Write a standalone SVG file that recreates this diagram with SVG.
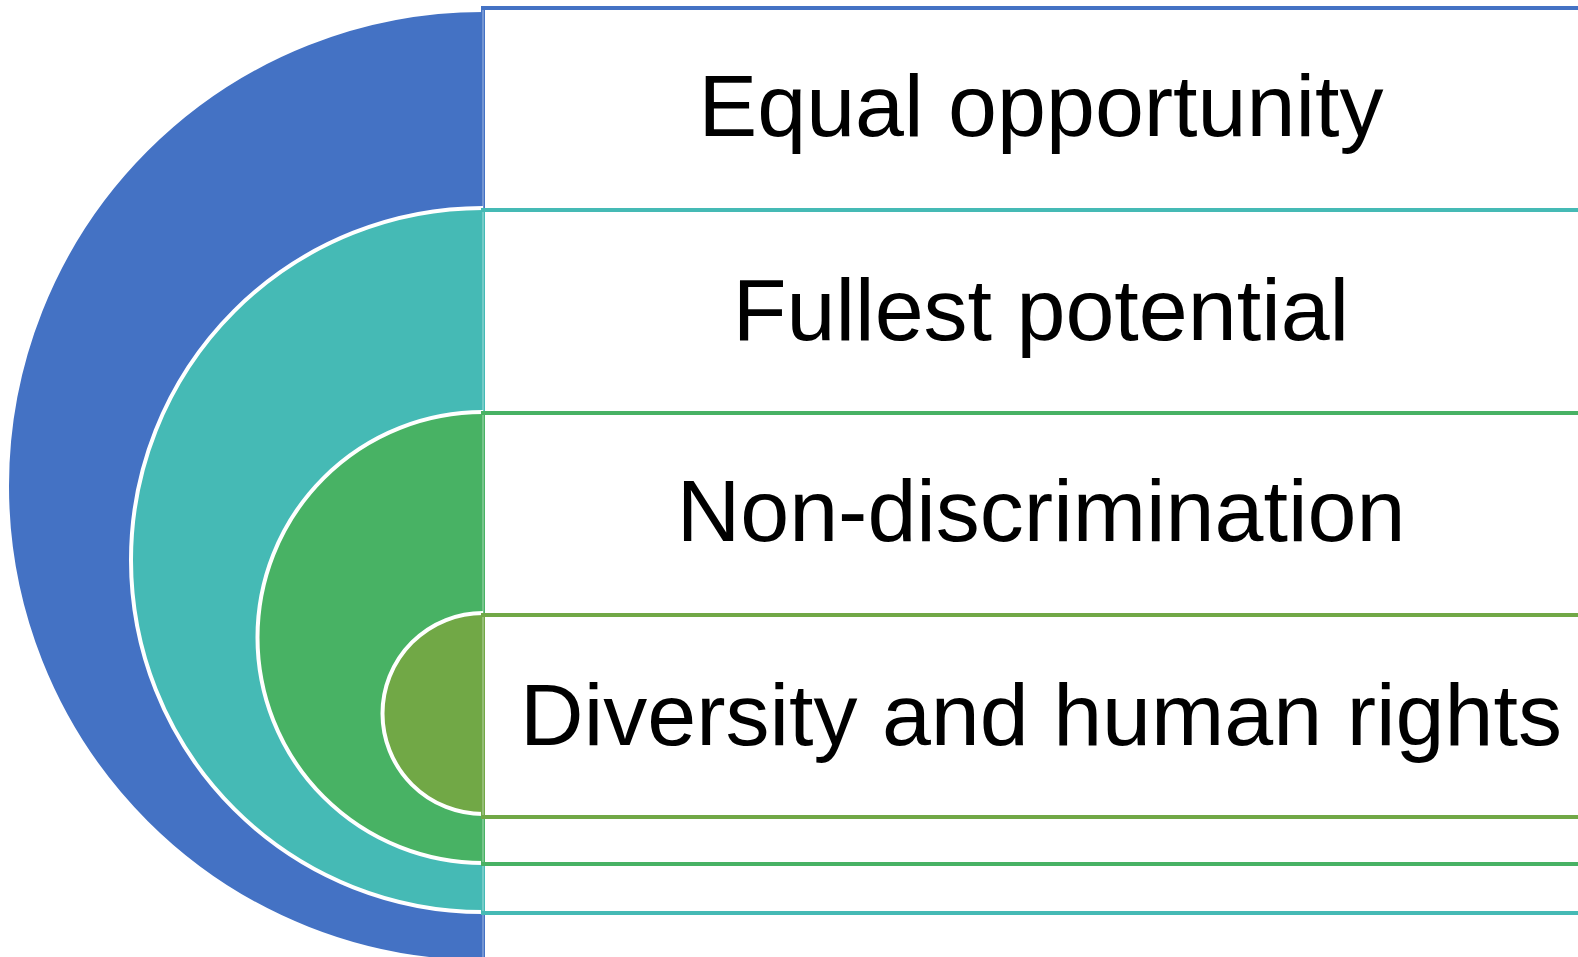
<svg xmlns="http://www.w3.org/2000/svg" width="1578" height="957" viewBox="0 0 1578 957">
<style>
.arc{stroke:#fff;stroke-width:4}
.box{fill:#fff;stroke-width:4}
.edge{stroke:#fff;stroke-opacity:0.35;stroke-width:1.5}
.lbl{font-family:"Liberation Sans",Arial,sans-serif;font-size:88px;fill:#000;text-anchor:middle}
</style>
<rect width="1578" height="957" fill="#fff"/>
<g id="node-equal">
<path class="arc" fill="#4472C4" d="M483,10 A476,476 0 0 0 483,962"/>
<rect class="box" stroke="#4472C4" x="483" y="8" width="1200" height="1000"/>
<line class="edge" x1="483" y1="10" x2="483" y2="957"/>
<text class="lbl" x="1041" y="136">Equal opportunity</text>
</g>
<g id="node-fullest">
<path class="arc" fill="#45BAB5" d="M483,208 A352,352 0 0 0 483,912"/>
<rect class="box" stroke="#45BAB5" x="483" y="210" width="1200" height="703"/>
<line class="edge" x1="483" y1="212" x2="483" y2="911"/>
<text class="lbl" x="1041" y="340">Fullest potential</text>
</g>
<g id="node-nondisc">
<path class="arc" fill="#48B264" d="M483,412 A225.5,225.5 0 0 0 483,863"/>
<rect class="box" stroke="#48B264" x="483" y="413" width="1200" height="451"/>
<line class="edge" x1="483" y1="415" x2="483" y2="862"/>
<text class="lbl" x="1041" y="541">Non-discrimination</text>
</g>
<g id="node-diversity">
<path class="arc" fill="#71A846" d="M483,613 A100.5,100.5 0 0 0 483,814"/>
<rect class="box" stroke="#71A846" x="483" y="615" width="1200" height="202"/>
<line class="edge" x1="483" y1="617" x2="483" y2="815"/>
<text class="lbl" x="1041" y="745">Diversity and human rights</text>
</g>
<g id="connectors"/>
</svg>
